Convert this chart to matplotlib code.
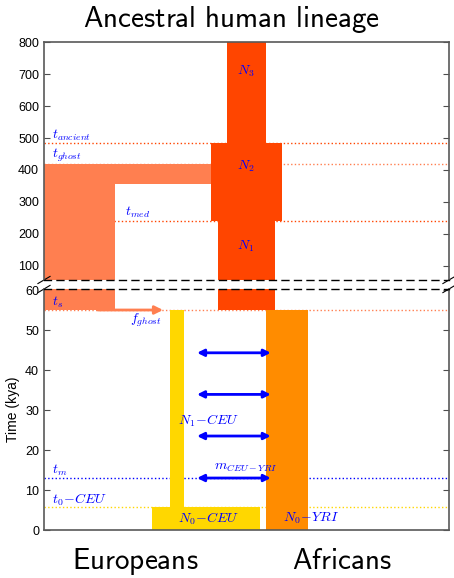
import numpy as np
import matplotlib.pyplot as plt

plt.rcParams['mathtext.fontset'] = 'cm'
plt.rcParams['font.family'] = ['Liberation Sans', 'DejaVu Sans']

# event times (kya)
t_s = 55.0
t_med = 240.0
t_ghost = 420.0
t_ancient = 485.0
t_m = 13.0
t0_ceu = 5.8
t_arm = 356.0      # lower edge of the ghost arm joining the ancestral block
t_top = 800.0

# populations: label, start time, end time
pop_names = ['N3', 'N2', 'N1', 'ghost', 'N1-CEU', 'N0-CEU', 'N0-YRI']
pop_start = [t_ancient, t_med, t_s, t_s, t0_ceu, 0.0, 0.0]
pop_end = [t_top, t_ancient, t_med, t_ghost, t_s, t0_ceu, t_s]
pop_colors = ['orangered', 'orangered', 'orangered', 'coral', 'gold', 'gold', 'darkorange']
# horizontal layout of each block (x units 0..100)
pop_left = [45.1, 41.2, 43.0, 0.0, 31.2, 26.6, 54.7]
pop_width = [9.7, 17.5, 14.0, 17.5, 3.4, 26.7, 10.6]

# migration arrows between CEU and YRI
mig_times = [44.3, 33.9, 23.5, 13.0]

fig = plt.figure(figsize=(4.54, 5.78), dpi=100)
ax_top = fig.add_axes([0.0969, 0.5156, 0.892, 0.4112])
ax_bot = fig.add_axes([0.0969, 0.0830, 0.892, 0.4170])

for ax in (ax_top, ax_bot):
    for i in range(len(pop_names)):
        ax.bar(pop_left[i], pop_end[i] - pop_start[i], bottom=pop_start[i],
               width=pop_width[i], align='edge', color=pop_colors[i], lw=0, zorder=2)
    # ghost arm
    ax.bar(0, t_ghost - t_arm, bottom=t_arm, width=41.2, align='edge',
           color='coral', lw=0, zorder=2)
    ax.set_xlim(0, 100)
    ax.set_xticks([])
    ax.tick_params(axis='y', direction='in', left=True, right=True, labelsize=9, length=4,
                   color='0.3')
    for s in ax.spines.values():
        s.set_color('0.35')
        s.set_linewidth(1.2)

# dotted time lines
ax_top.axhline(t_ancient, ls=':', color='orangered', lw=1, zorder=1)
ax_top.axhline(t_ghost, ls=':', color='coral', lw=1, zorder=1)
ax_top.axhline(t_med, ls=':', color='orangered', lw=1, zorder=1)
ax_bot.axhline(t_s, ls=':', color='coral', lw=1, zorder=1)
ax_bot.axhline(t_m, ls=':', color='blue', lw=1, zorder=1)
ax_bot.axhline(t0_ceu, ls=':', color='gold', lw=1, zorder=1)

ax_top.set_ylim(55, 800)
ax_top.set_yticks(np.arange(100, 801, 100))
ax_bot.set_ylim(0, 60.25)
ax_bot.set_yticks(np.arange(0, 61, 10))

# broken axis styling
ax_top.spines['bottom'].set_linestyle((0, (5, 4)))
ax_top.spines['bottom'].set_color('k')
ax_top.spines['bottom'].set_linewidth(1)
ax_bot.spines['top'].set_linestyle((0, (5, 4)))
ax_bot.spines['top'].set_color('k')
ax_bot.spines['top'].set_linewidth(1)
d = 0.015
kw = dict(transform=ax_top.transAxes, color='k', clip_on=False, lw=0.8)
ax_top.plot((-d, +d), (-d, +d), **kw)
ax_top.plot((1 - d, 1 + d), (-d, +d), **kw)
kw.update(transform=ax_bot.transAxes)
ax_bot.plot((-d, +d), (1 - d, 1 + d), **kw)
ax_bot.plot((1 - d, 1 + d), (1 - d, 1 + d), **kw)

# ghost admixture arrow
ax_bot.annotate('', xy=(29.4, t_s), xytext=(13.3, t_s),
                arrowprops=dict(arrowstyle='-|>', color='coral', lw=2,
                                mutation_scale=12, shrinkA=0, shrinkB=0), zorder=3)
# migration arrows
for t in mig_times:
    ax_bot.annotate('', xy=(56.0, t), xytext=(37.8, t),
                    arrowprops=dict(arrowstyle='<|-|>', color='blue', lw=2,
                                    mutation_scale=10, shrinkA=0, shrinkB=0), zorder=3)

tc = 'blue'
fs = 10
ax_top.text(49.9, 708, r'$N_3$', color=tc, fontsize=fs, ha='center', va='center', zorder=4)
ax_top.text(49.9, 410, r'$N_2$', color=tc, fontsize=fs, ha='center', va='center', zorder=4)
ax_top.text(49.9, 160, r'$N_1$', color=tc, fontsize=fs, ha='center', va='center', zorder=4)
ax_top.text(2, 508, r'$t_{ancient}$', color=tc, fontsize=fs, va='center', zorder=4)
ax_top.text(2, 445, r'$t_{ghost}$', color=tc, fontsize=fs, va='center', zorder=4)
ax_top.text(20, 268, r'$t_{med}$', color=tc, fontsize=fs, va='center', zorder=4)
ax_bot.text(2, 57, r'$t_s$', color=tc, fontsize=fs, va='center', zorder=4)
ax_bot.text(21.2, 52.5, r'$f_{ghost}$', color=tc, fontsize=fs, va='center', zorder=4)
ax_bot.text(2, 15, r'$t_m$', color=tc, fontsize=fs, va='center', zorder=4)
ax_bot.text(2, 7.5, r'$t_0\!-\!CEU$', color=tc, fontsize=fs, va='center', zorder=4)
ax_bot.text(33.1, 27.2, r'$N_1\!-\!CEU$', color=tc, fontsize=fs, va='center', zorder=4)
ax_bot.text(42, 15.8, r'$m_{CEU-YRI}$', color=tc, fontsize=fs, va='center', zorder=4)
ax_bot.text(33.1, 2.9, r'$N_0\!-\!CEU$', color=tc, fontsize=fs, va='center', zorder=4)
ax_bot.text(59, 2.9, r'$N_0\!-\!YRI$', color=tc, fontsize=fs, va='center', zorder=4)

ax_bot.set_ylabel('Time (kya)', fontsize=10)

fig.text(0.51, 0.954, r'$\mathsf{Ancestral\ human\ lineage}$', fontsize=21, ha='center',
         va='baseline')
fig.text(0.297, 0.016, r'$\mathsf{Europeans}$', fontsize=21, ha='center', va='baseline')
fig.text(0.752, 0.016, r'$\mathsf{Africans}$', fontsize=21, ha='center', va='baseline')

fig.savefig('out.png', dpi=100)
